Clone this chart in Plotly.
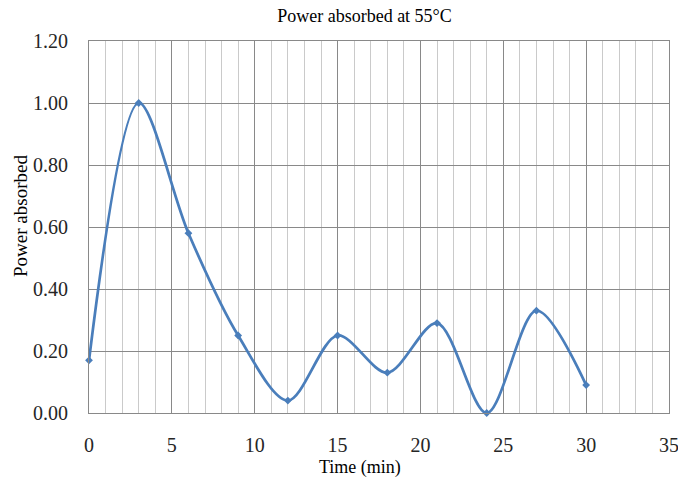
import plotly.graph_objects as go

time_min = [0, 3, 6, 9, 12, 15, 18, 21, 24, 27, 30]
power_absorbed = [0.17, 1.00, 0.58, 0.25, 0.04, 0.25, 0.13, 0.29, 0.00, 0.33, 0.09]

title_text = "Power absorbed at 55\u00b0C"
x_title = "Time (min)"
y_title = "Power absorbed"

font_family = "Liberation Serif, Times New Roman, serif"

W, H = 678, 478
ML, MR, MT, MB = 89, 9, 41, 65
PW, PH = W - ML - MR, H - MT - MB


def px_x(px):
    return (px - ML) / PW


def px_y(py):
    return (H - MB - py) / PH


fig = go.Figure()
fig.add_trace(go.Scatter(
    x=time_min, y=power_absorbed,
    mode="lines+markers",
    line=dict(color="#4A7EBB", width=2.75, shape="spline", smoothing=0.9),
    marker=dict(symbol="diamond", size=6, color="#4A7EBB"),
    showlegend=False,
    cliponaxis=False,
    hoverinfo="skip",
))

fig.update_layout(
    width=W, height=H,
    margin=dict(l=ML, r=MR, t=MT, b=MB, autoexpand=False),
    paper_bgcolor="white", plot_bgcolor="white",
    font=dict(family=font_family, size=18, color="#262626"),
    title=dict(text=title_text, x=364.5 / W, xref="container", xanchor="center",
               y=1 - 16 / H, yref="container", yanchor="middle",
               font=dict(family=font_family, size=18, color="#000000")),
    xaxis=dict(
        range=[0, 35], dtick=5, tick0=0,
        showgrid=True, gridcolor="#898989", gridwidth=1,
        minor=dict(dtick=1, showgrid=True, gridcolor="#CACACA", gridwidth=1),
        showline=True, linecolor="#898989", linewidth=1, mirror=True,
        zeroline=False, ticks="", ticklabelstandoff=14, automargin=False,
        ticklabeloverflow="allow",
        tickfont=dict(family=font_family, size=20, color="#262626"),
    ),
    yaxis=dict(
        range=[0, 1.2], dtick=0.2, tick0=0, tickformat=".2f",
        showgrid=True, gridcolor="#898989", gridwidth=1,
        showline=True, linecolor="#898989", linewidth=1, mirror=True,
        zeroline=False, ticks="", ticklabelstandoff=16, automargin=False,
        ticklabeloverflow="allow",
        tickfont=dict(family=font_family, size=20, color="#262626"),
    ),
    annotations=[
        dict(text=x_title, xref="paper", yref="paper", x=px_x(360), y=px_y(467),
             xanchor="center", yanchor="middle", showarrow=False, borderpad=0,
             font=dict(family=font_family, size=18, color="#000000")),
        dict(text=y_title, xref="paper", yref="paper", x=px_x(20), y=px_y(216),
             xanchor="center", yanchor="middle", showarrow=False, textangle=-90,
             font=dict(family=font_family, size=19, color="#000000")),
    ],
)

fig.write_html("out.html", config={"displayModeBar": False},
               post_script="document.body.style.margin='0';")
